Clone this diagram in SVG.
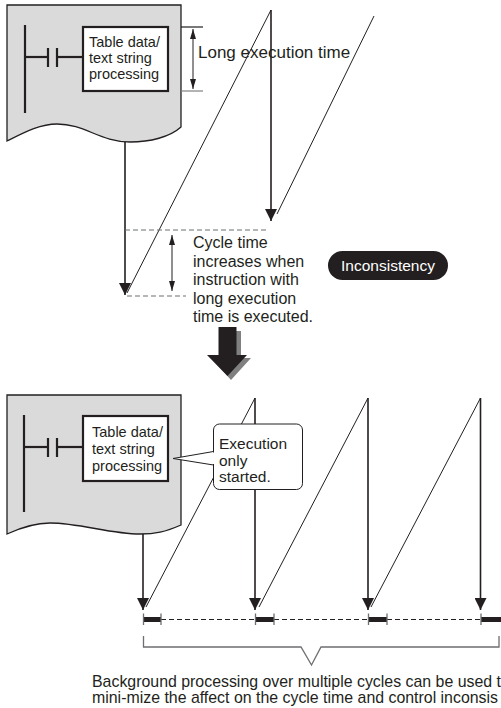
<svg xmlns="http://www.w3.org/2000/svg" width="501" height="708" viewBox="0 0 501 708">
<style>
  text { font-family: "Liberation Sans", Arial, sans-serif; fill: #231f20; }
  .doc { fill: #dadada; stroke: #231f20; stroke-width: 1.3; }
  .rail { stroke: #231f20; stroke-width: 2.2; fill: none; }
  .box { fill: #ffffff; stroke: #231f20; stroke-width: 2.2; }
  .thin { stroke: #231f20; stroke-width: 1; fill: none; }
  .vert { stroke: #231f20; stroke-width: 1.6; fill: none; }
  .dash { stroke: #6d6e70; stroke-width: 1.2; stroke-dasharray: 5 3; fill: none; }
  .dashk { stroke: #231f20; stroke-width: 1; stroke-dasharray: 5 3; fill: none; }
  .gray { stroke: #6d6e70; stroke-width: 1.3; fill: none; }
  .bar { fill: #231f20; }
</style>
<defs>
  <marker id="ah" viewBox="0 0 12 12" refX="12" refY="6" markerWidth="12" markerHeight="12" orient="auto" markerUnits="userSpaceOnUse">
    <path d="M0,0 L12,6 L0,12 Z" fill="#231f20"/>
  </marker>
  <marker id="sa" viewBox="0 0 10 6" refX="10" refY="3" markerWidth="10" markerHeight="6" orient="auto-start-reverse" markerUnits="userSpaceOnUse">
    <path d="M0,0 L10,3 L0,6 Z" fill="#231f20"/>
  </marker>
</defs>

<!-- Upper program -->
<g id="program1">
  <path class="doc" d="M7,5 H181 V127 C170,137 150,142 130,142 C100,142 85,124 57,124 C40,124 25,132 7,141 Z"/>
  <line class="rail" x1="25" y1="25" x2="25" y2="113"/>
  <line class="rail" x1="25" y1="57" x2="48" y2="57"/>
  <line class="rail" x1="48" y1="48" x2="48" y2="67" stroke-width="2.6"/>
  <line class="rail" x1="57" y1="48" x2="57" y2="67" stroke-width="2.6"/>
  <line class="rail" x1="57" y1="57" x2="83" y2="57"/>
  <rect class="box" x="83" y="27" width="85" height="64"/>
  <text x="89" y="47" font-size="14.5">Table data/</text>
  <text x="89" y="63" font-size="14.5">text string</text>
  <text x="89" y="79" font-size="14.5">processing</text>
</g>

<g id="connectors-upper">
  <line x1="181" y1="27" x2="203" y2="27" stroke="#231f20" stroke-width="1.2"/>
  <line x1="181" y1="91" x2="203" y2="91" stroke="#808080" stroke-width="1.2"/>
  <line class="thin" x1="193" y1="29" x2="193" y2="89" marker-start="url(#sa)" marker-end="url(#sa)"/>
  <line class="vert" x1="125" y1="142" x2="125" y2="295" marker-end="url(#ah)"/>
  <line class="thin" x1="127" y1="293" x2="271" y2="10"/>
  <line class="vert" x1="271" y1="10" x2="271" y2="221" marker-end="url(#ah)"/>
  <line class="thin" x1="277" y1="214" x2="374" y2="16"/>
  <line class="dash" x1="125" y1="230" x2="268" y2="230"/>
  <line class="dash" x1="127" y1="296" x2="186" y2="296"/>
  <line class="thin" x1="172" y1="235" x2="172" y2="291" marker-start="url(#sa)" marker-end="url(#sa)"/>
</g>

<g id="label-long">
  <text x="198" y="58" font-size="17">Long execution time</text>
</g>

<g id="label-cycle" font-size="16">
  <text x="193" y="248">Cycle time</text>
  <text x="193" y="266.5">increases when</text>
  <text x="193" y="285">instruction with</text>
  <text x="193" y="303.5">long execution</text>
  <text x="193" y="322">time is executed.</text>
</g>

<g id="inconsistency">
  <rect x="328" y="251" width="120" height="29" rx="14.5" fill="#231f20"/>
  <text x="388" y="271" font-size="15.5" text-anchor="middle" style="fill:#ffffff">Inconsistency</text>
</g>

<g id="big-arrow">
  <path d="M223,331 H241 V358 H251 L231,380 L211,358 H223 Z" fill="#808080"/>
  <path d="M218.5,327 H236.5 V355 H247 L227.5,376 L207,355 H218.5 Z" fill="#231f20"/>
</g>

<!-- Lower program -->
<g id="program2">
  <path class="doc" d="M7,395 H181 V525 C165,532 155,534 140,534 C110,534 80,523 50,523 C35,523 20,528 7,534 Z"/>
  <line class="rail" x1="24" y1="415" x2="24" y2="512"/>
  <line class="rail" x1="24" y1="447" x2="48" y2="447"/>
  <line class="rail" x1="48" y1="438" x2="48" y2="457" stroke-width="2.6"/>
  <line class="rail" x1="57" y1="438" x2="57" y2="457" stroke-width="2.6"/>
  <line class="rail" x1="57" y1="447" x2="83" y2="447"/>
  <rect class="box" x="83" y="416" width="85" height="65"/>
  <text x="92" y="437" font-size="14.5">Table data/</text>
  <text x="92" y="454" font-size="14.5">text string</text>
  <text x="92" y="471" font-size="14.5">processing</text>
</g>

<g id="connectors-lower">
  <line class="vert" x1="143" y1="534" x2="143" y2="610" marker-end="url(#ah)"/>
  <line class="thin" x1="146" y1="607" x2="255" y2="398"/>
  <line class="vert" x1="255" y1="398" x2="255" y2="610" marker-end="url(#ah)"/>
  <line class="thin" x1="259" y1="607" x2="368" y2="398"/>
  <line class="vert" x1="368" y1="398" x2="368" y2="610" marker-end="url(#ah)"/>
  <line class="thin" x1="371" y1="607" x2="480.5" y2="398"/>
  <line class="vert" x1="480.5" y1="398" x2="480.5" y2="610" marker-end="url(#ah)"/>
</g>

<g id="callout">
  <path d="M213.5,451.5 L173,458.5 L213.5,465" fill="#ffffff" stroke="#231f20" stroke-width="1"/>
  <rect x="213.5" y="424" width="89" height="65.5" rx="6" fill="#ffffff" stroke="#231f20" stroke-width="1"/>
  <rect x="212" y="452.5" width="3" height="11.5" fill="#ffffff"/>
  <text x="219" y="449" font-size="15.5">Execution</text>
  <text x="219" y="465.5" font-size="15.5">only</text>
  <text x="219" y="482" font-size="15.5">started.</text>
</g>

<g id="timeline">
  <line class="dashk" x1="161" y1="619.5" x2="255" y2="619.5"/>
  <line class="dashk" x1="274" y1="619.5" x2="368" y2="619.5"/>
  <line class="dashk" x1="387" y1="619.5" x2="481" y2="619.5"/>
  <rect class="bar" x="143" y="617" width="18" height="5"/>
  <rect class="bar" x="255" y="617" width="19" height="5"/>
  <rect class="bar" x="368" y="617" width="19" height="5"/>
  <rect class="bar" x="481" y="617" width="20" height="5"/>
  <g class="gray">
    <line x1="143.5" y1="613.5" x2="143.5" y2="625"/>
    <line x1="161" y1="613.5" x2="161" y2="625"/>
    <line x1="255.5" y1="613.5" x2="255.5" y2="625"/>
    <line x1="274" y1="613.5" x2="274" y2="625"/>
    <line x1="368.5" y1="613.5" x2="368.5" y2="625"/>
    <line x1="387" y1="613.5" x2="387" y2="625"/>
    <line x1="481" y1="613.5" x2="481" y2="625"/>
  </g>
</g>

<g id="brace">
  <path class="gray" d="M143.5,636 V647 H301 L311.5,665 L321,647 H499 V636"/>
</g>

<g id="summary" font-size="15.9">
  <text x="92" y="687">Background processing over multiple cycles can be used t</text>
  <text x="92" y="703">mini-mize the affect on the cycle time and control inconsis</text>
</g>
</svg>
